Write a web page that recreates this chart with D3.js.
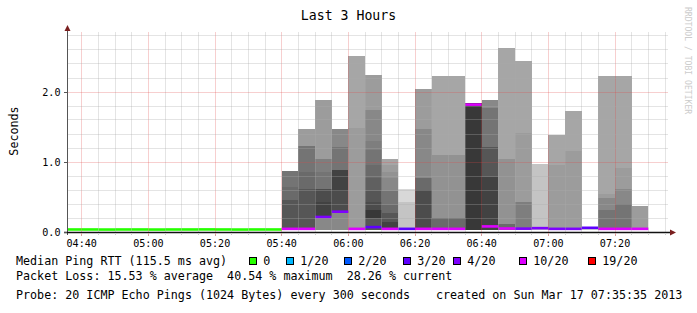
<!DOCTYPE html>
<html><head><meta charset="utf-8">
<script src="https://cdn.jsdelivr.net/npm/d3@7"></script>
<style>
html,body{margin:0;padding:0;background:#fff;}
svg{display:block;}
text{font-family:"DejaVu Sans Mono",monospace;}
</style></head><body>
<svg id="chart" width="697" height="313"></svg>
<script>
// ---------------- data ----------------
const chartTitle = "Last 3 Hours";
const rangeStart = "04:35:35";
const rangeEnd = "07:35:35";
const stepTimes = ["04:35","04:40","04:45","04:50","04:55","05:00","05:05","05:10","05:15","05:20","05:25","05:30","05:35",
  "05:40","05:45","05:50","05:55","06:00","06:05","06:10","06:15","06:20","06:25","06:30","06:35",
  "06:40","06:45","06:50","06:55","07:00","07:05","07:10","07:15","07:20","07:25"];
const medianValues = [0.036,0.036,0.035,0.036,0.036,0.035,0.036,0.036,0.037,0.036,0.035,0.036,0.036,
  0.045,0.045,0.215,0.29,0.045,0.07,0.045,0.045,0.045,0.045,0.045,1.82,
  0.08,0.05,0.048,0.055,0.045,0.045,0.06,0.045,0.045,0.045];
const lossIndex = [0,0,0,0,0,0,0,0,0,0,0,0,0,
  5,5,4,4,5,3,5,3,5,5,5,5,
  5,5,4,4,4,4,3,5,5,5];
const smokeBase = 0.03;
const smokeTops = [[],[],[],[],[],[],[],[],[],[],[],[],[],
  [0.46,0.64,0.87],
  [0.62,0.86,1.23,1.47],
  [0.21,0.43,0.62,0.86,1.04,1.88],
  [0.28,0.58,0.89,1.22,1.47],
  [1.48,2.51],
  [0.195,0.31,0.43,0.58,0.77,0.96,1.17,1.30,1.74,2.25],
  [0.15,0.27,0.39,0.58,0.77,0.86,0.96,1.04],
  [0.43,0.61],
  [0.60,0.77,1.47,2.04],
  [0.195,1.10,2.23],
  [0.195,1.10,2.23],
  [1.84],
  [0.79,1.22,1.77,1.88],
  [0.12,1.05,2.63],
  [0.43,1.41,2.44],
  [0.97],
  [0.95,1.39],
  [1.16,1.73],
  [0.07],
  [0.31,0.48,0.55,2.23],
  [0.40,0.61,0.92,2.23],
  [0.37]];
const smokeDensity = [[],[],[],[],[],[],[],[],[],[],[],[],[],
  [14,12,11],
  [14,12,11,7],
  [9,16,15,11,10,7],
  [9,15,16,11,9],
  [7,6],
  [14,17,15,14,13,12,11,10,9,7],
  [16,14,12,11,9,8,7,6],
  [3,1],
  [15,12,9,7],
  [12,8,6],
  [12,8,6],
  [17],
  [16,14,11,9],
  [12,8,6],
  [10,7,6],
  [3],
  [7,6],
  [7,6],
  [2],
  [11,9,7,6],
  [11,9,7,6],
  [7]];
const lossLabels = ["0","1/20","2/20","3/20","4/20","10/20","19/20"];
const yTickValues = [0, 1, 2];
const yAxisTitle = "Seconds";
const legendMedian = "Median Ping RTT (115.5 ms avg)";
const legendLoss = "Packet Loss: 15.53 % average  40.54 % maximum  28.26 % current";
const legendProbe = "Probe: 20 ICMP Echo Pings (1024 Bytes) every 300 seconds";
const legendCreated = "created on Sun Mar 17 07:35:35 2013";
const watermark = "RRDTOOL / TOBI OETIKER";

// ---------------- styles / layout ----------------
const lossColors = ["#26ff00","#00b8ff","#0059ff","#5e00ff","#7e00ff","#dd00ff","#ff0000"];
const greyOf = d => { const g = Math.round(226 - 10*d); return `rgb(${g},${g},${g})`; };
const P = {left:67, right:667, top:32, bottom:232};
const swatchX = [249.5, 286.5, 344.5, 403.5, 453.5, 519.5, 588.5];
const majorGrid = "rgba(225,70,70,0.26)", minorGrid = "rgba(170,170,170,0.32)";

const parse = s => { const [h,m,sec] = s.split(":").map(Number); return new Date(2013,2,17,h,m,sec||0); };
const t0 = parse(rangeStart), t1 = parse(rangeEnd);
const x = d3.scaleTime().domain([t0,t1]).range([P.left,P.right]);
const yTop = (P.bottom-P.top)/70; // 70 px per second
const y = d3.scaleLinear().domain([0,yTop]).range([P.bottom,P.top]);

const svg = d3.select("#chart");
svg.append("rect").attr("width",697).attr("height",313).attr("fill","#fff");
svg.append("defs").append("clipPath").attr("id","plotclip")
  .append("rect").attr("x",P.left).attr("y",P.top).attr("width",P.right-P.left).attr("height",P.bottom-P.top+2);

const plot = svg.append("g").attr("clip-path","url(#plotclip)");

// smoke
const steps = stepTimes.map((s,i)=>{ const a=parse(s); return {i, a, b:d3.timeMinute.offset(a,5)}; });
steps.forEach(st=>{
  const tops = smokeTops[st.i], dens = smokeDensity[st.i];
  tops.forEach((tv,j)=>{
    const bv = j===0 ? smokeBase : tops[j-1];
    const x0 = Math.round(x(st.a)), x1 = Math.round(x(st.b));
    const ya = Math.round(y(tv)), yb = Math.round(y(bv));
    plot.append("rect").attr("x",x0).attr("width",x1-x0)
      .attr("y",ya).attr("height",Math.max(0,yb-ya))
      .attr("fill",greyOf(dens[j])).attr("shape-rendering","crispEdges");
  });
});

// grid
const grid = svg.append("g");
const vTimes = d3.timeMinute.every(5).range(t0, d3.timeSecond.offset(t1,1));
const isMajorT = t => t.getMinutes()%20===0;
vTimes.forEach(t=>{
  const px = Math.floor(x(t))+0.5;
  grid.append("line").attr("x1",px).attr("x2",px).attr("y1",P.top).attr("y2",P.bottom)
    .attr("stroke", isMajorT(t) ? majorGrid : minorGrid).attr("stroke-width",1);
});
const hVals = d3.range(1,15).map(k=>k*0.2);
hVals.forEach(v=>{
  const major = Math.abs(v-Math.round(v))<1e-6;
  const py = Math.floor(y(v))+0.5;
  grid.append("line").attr("x1",P.left).attr("x2",P.right+1).attr("y1",py).attr("y2",py)
    .attr("stroke", major ? majorGrid : minorGrid).attr("stroke-width",1);
});

// median line
steps.forEach(st=>{
  const py = y(medianValues[st.i]);
  plot.append("line").attr("x1",Math.max(P.left,x(st.a))).attr("x2",x(st.b))
    .attr("y1",py).attr("y2",py).attr("stroke",lossColors[lossIndex[st.i]]).attr("stroke-width",2.6);
});

// axes
const ax = svg.append("g");
ax.append("line").attr("x1",P.left+0.5).attr("x2",P.left+0.5).attr("y1",P.bottom+3).attr("y2",P.top-4)
  .attr("stroke","#555").attr("stroke-width",1);
ax.append("line").attr("x1",P.left-3).attr("x2",P.right+4).attr("y1",P.bottom+0.5).attr("y2",P.bottom+0.5)
  .attr("stroke","#111").attr("stroke-width",1.3);
ax.append("path").attr("d",`M${P.left-2.5},${P.top-1} L${P.left+0.5},${P.top-7} L${P.left+3.5},${P.top-1} Z`).attr("fill","#7a1f1f");
ax.append("path").attr("d",`M${P.right+3},${P.bottom-2.5} L${P.right+9},${P.bottom+0.5} L${P.right+3},${P.bottom+3.5} Z`).attr("fill","#7a1f1f");

// x ticks & labels
vTimes.forEach(t=>{
  const px = Math.floor(x(t))+0.5;
  ax.append("line").attr("x1",px).attr("x2",px).attr("y1",P.bottom+1).attr("y2",P.bottom+(isMajorT(t)?4:3))
    .attr("stroke", isMajorT(t)?"#d9a0a0":"#ccc");
});
const fmt = d3.timeFormat("%H:%M");
vTimes.filter(isMajorT).forEach(t=>{
  ax.append("text").attr("x",x(t)).attr("y",247).attr("text-anchor","middle")
    .attr("font-size","10.1px").attr("fill","#000").text(fmt(t));
});
// y ticks & labels
yTickValues.forEach(v=>{
  const py = Math.floor(y(v))+0.5;
  ax.append("line").attr("x1",P.left-3).attr("x2",P.left).attr("y1",py).attr("y2",py).attr("stroke","#555");
  ax.append("text").attr("x",60.5).attr("y",y(v)+3.8).attr("text-anchor","end")
    .attr("font-size","10.1px").attr("fill","#000").text(d3.format(".1f")(v));
});
svg.append("text").attr("transform","translate(18,131) rotate(-90)").attr("text-anchor","middle")
  .attr("font-size","11.7px").attr("fill","#000").text(yAxisTitle);

// title
svg.append("text").attr("x",348.5).attr("y",20).attr("text-anchor","middle")
  .attr("font-size","13.2px").attr("fill","#000").text(chartTitle);

// watermark
svg.append("text").attr("transform","translate(684.5,7) rotate(90)")
  .attr("font-size","8.1px").attr("fill","#cccccc").text(watermark);

// legend
const lg = svg.append("g").attr("font-size","11.7px").attr("fill","#000");
lg.append("text").attr("x",16).attr("y",265).text(legendMedian);
lossLabels.forEach((lab,k)=>{
  lg.append("rect").attr("x",swatchX[k]).attr("y",257.5).attr("width",7).attr("height",7)
    .attr("fill",lossColors[k]).attr("stroke","#000").attr("stroke-width",1);
  lg.append("text").attr("x",swatchX[k]+13.8).attr("y",265).text(lab);
});
lg.append("text").attr("x",16).attr("y",279.5).attr("xml:space","preserve").style("white-space","pre").text(legendLoss);
lg.append("text").attr("x",16).attr("y",298.5).text(legendProbe);
lg.append("text").attr("x",436).attr("y",298.5).text(legendCreated);
</script>
</body></html>
